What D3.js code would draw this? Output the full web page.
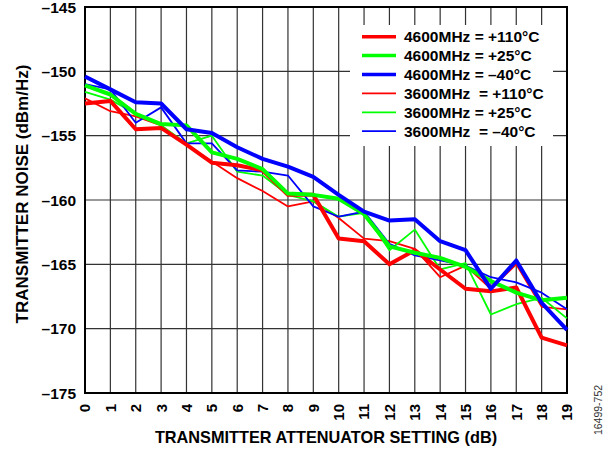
<!DOCTYPE html>
<html>
<head>
<meta charset="utf-8">
<script src="https://cdn.jsdelivr.net/npm/d3@7"></script>
<style>
  body { margin: 0; background: #fff; }
  svg { font-family: "Liberation Sans", Arial, sans-serif; }
  text { white-space: pre; }
</style>
</head>
<body>
<div id="chart"></div>
<script>
// attenuator settings (dB)
var atten = d3.range(0, 20);

// transmitter noise, dBm/Hz
var n4600_110 = [-152.5, -152.3, -154.5, -154.4, -155.7, -157.1, -157.3, -157.7, -159.6, -159.6, -163.0, -163.2, -165.0, -163.9, -165.4, -166.9, -167.1, -166.8, -170.7, -171.3];
var n4600_25  = [-151.1, -151.8, -153.3, -154.1, -154.2, -156.3, -156.8, -157.6, -159.5, -159.6, -159.9, -161.1, -163.6, -164.1, -164.5, -165.2, -166.3, -167.2, -167.8, -167.6];
var n4600_m40 = [-150.4, -151.4, -152.4, -152.5, -154.5, -154.8, -155.9, -156.8, -157.4, -158.2, -159.6, -160.9, -161.6, -161.5, -163.2, -163.9, -166.9, -164.7, -168.0, -170.1];
var n3600_110 = [-152.1, -153.1, -153.5, -154.2, -155.7, -157.0, -158.3, -159.3, -160.5, -160.1, -161.4, -163.0, -163.2, -163.8, -166.0, -165.1, -166.9, -165.0, -168.3, -168.5];
var n3600_25  = [-151.6, -152.2, -153.3, -154.2, -155.6, -155.0, -157.8, -158.1, -159.6, -160.1, -161.3, -161.0, -163.9, -162.3, -165.4, -164.9, -168.9, -168.1, -167.6, -169.2];
var n3600_m40 = [-151.0, -151.4, -154.0, -152.8, -155.6, -155.6, -157.7, -157.8, -158.1, -160.5, -161.3, -160.9, -163.4, -164.3, -164.7, -165.1, -166.0, -166.4, -167.2, -168.5];

var yTicks = [-175, -170, -165, -160, -155, -150, -145];

var series = [
    {label: "3600MHz  = +110\u00B0C", values: n3600_110, color: "#ff0000", thick: false},
    {label: "3600MHz = +25\u00B0C",   values: n3600_25,  color: "#00ff00", thick: false},
    {label: "3600MHz  = \u201340\u00B0C", values: n3600_m40, color: "#0000ff", thick: false},
    {label: "4600MHz = +110\u00B0C", values: n4600_110, color: "#ff0000", thick: true},
    {label: "4600MHz = +25\u00B0C",  values: n4600_25,  color: "#00ff00", thick: true},
    {label: "4600MHz = \u201340\u00B0C", values: n4600_m40, color: "#0000ff", thick: true}
];
// legend order as printed
var legendOrder = [3, 4, 5, 0, 1, 2];

var W = 614, H = 450;
var margin = {top: 7, right: 47, bottom: 57, left: 85};

var svg = d3.select("#chart").append("svg")
    .attr("width", W)
    .attr("height", H);

var x = d3.scaleLinear().domain([0, 19]).range([margin.left, W - margin.right]);
var y = d3.scaleLinear().domain([-175, -145]).range([H - margin.bottom, margin.top]);

// grid
svg.append("g")
    .selectAll("line.v")
    .data(atten)
    .enter().append("line")
    .attr("x1", function(d) { return x(d); })
    .attr("x2", function(d) { return x(d); })
    .attr("y1", y(-145))
    .attr("y2", y(-175))
    .attr("stroke", "#333")
    .attr("stroke-width", 1.2);

svg.append("g")
    .selectAll("line.h")
    .data(yTicks)
    .enter().append("line")
    .attr("x1", x(0))
    .attr("x2", x(19))
    .attr("y1", function(d) { return y(d); })
    .attr("y2", function(d) { return y(d); })
    .attr("stroke", "#333")
    .attr("stroke-width", 1.2);

// legend box blanks out the grid behind it
var legendG = svg.append("g");
legendG.append("rect")
    .attr("x", 350).attr("y", 25)
    .attr("width", 203).attr("height", 121)
    .attr("fill", "#fff");

// frame
svg.append("rect")
    .attr("x", x(0)).attr("y", y(-145))
    .attr("width", x(19) - x(0)).attr("height", y(-175) - y(-145))
    .attr("fill", "none")
    .attr("stroke", "#000")
    .attr("stroke-width", 2);

// lines
var line = d3.line()
    .x(function(d, i) { return x(atten[i]); })
    .y(function(d) { return y(d); });

svg.append("g")
    .selectAll("path")
    .data(series)
    .enter().append("path")
    .attr("d", function(s) { return line(s.values); })
    .attr("fill", "none")
    .attr("stroke", function(s) { return s.color; })
    .attr("stroke-width", function(s) { return s.thick ? 4 : 1.8; })
    .attr("stroke-linejoin", "round");

// legend entries
legendOrder.forEach(function(k, i) {
    var s = series[k];
    var ly = 36.7 + i * 18.9;
    legendG.append("line")
        .attr("x1", 362).attr("x2", 396)
        .attr("y1", ly).attr("y2", ly)
        .attr("stroke", s.color)
        .attr("stroke-width", s.thick ? 3.5 : 1.8);
    legendG.append("text")
        .attr("x", 404).attr("y", ly)
        .attr("dy", "0.36em")
        .attr("font-size", 15.5)
        .attr("font-weight", "bold")
        .text(s.label);
});

// y tick labels
svg.append("g")
    .selectAll("text")
    .data(yTicks)
    .enter().append("text")
    .attr("x", 76)
    .attr("y", function(d) { return y(d); })
    .attr("dy", "0.36em")
    .attr("text-anchor", "end")
    .attr("font-size", 15.5)
    .attr("font-weight", "bold")
    .text(function(d) { return "\u2013" + Math.abs(d); });

// x tick labels (rotated)
svg.append("g")
    .selectAll("text")
    .data(atten)
    .enter().append("text")
    .attr("transform", function(d) { return "translate(" + x(d) + ",404) rotate(-90)"; })
    .attr("dy", "0.36em")
    .attr("text-anchor", "end")
    .attr("font-size", 15)
    .attr("font-weight", "bold")
    .text(function(d) { return d; });

// axis titles
svg.append("text")
    .attr("x", (x(0) + x(19)) / 2)
    .attr("y", 443)
    .attr("text-anchor", "middle")
    .attr("font-size", 16.3)
    .attr("font-weight", "bold")
    .text("TRANSMITTER ATTENUATOR SETTING (dB)");

svg.append("text")
    .attr("transform", "translate(28,194) rotate(-90)")
    .attr("text-anchor", "middle")
    .attr("font-size", 17)
    .attr("font-weight", "bold")
    .text("TRANSMITTER NOISE (dBm/Hz)");

svg.append("text")
    .attr("transform", "translate(602,410) rotate(-90)")
    .attr("text-anchor", "middle")
    .attr("font-size", 10.5)
    .attr("fill", "#333")
    .text("16499-752");
</script>
</body>
</html>
